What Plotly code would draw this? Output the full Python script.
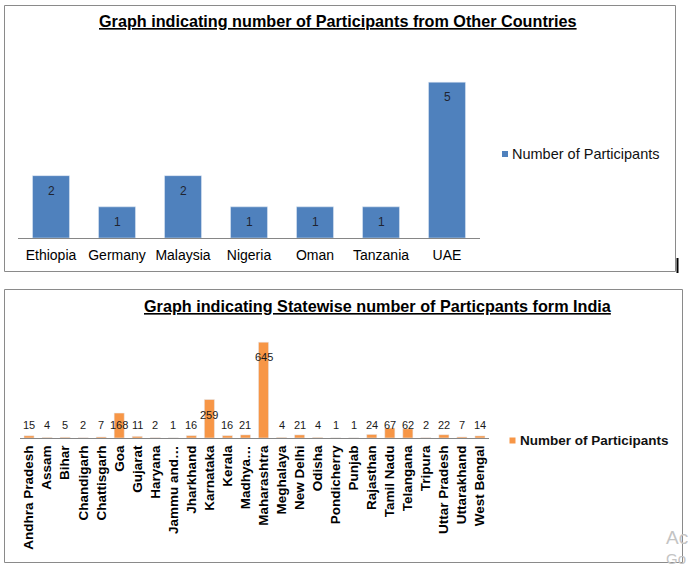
import plotly.graph_objects as go

W, H = 688, 566

countries = ["Ethiopia", "Germany", "Malaysia", "Nigeria", "Oman", "Tanzania", "UAE"]
country_values = [2, 1, 2, 1, 1, 1, 5]

states = ["Andhra Pradesh", "Assam", "Bihar", "Chandigarh", "Chattisgarh", "Goa", "Gujarat",
          "Haryana", "Jammu and…", "Jharkhand", "Karnataka", "Kerala", "Madhya…", "Maharashtra",
          "Meghalaya", "New Delhi", "Odisha", "Pondicherry", "Punjab", "Rajasthan", "Tamil Nadu",
          "Telangana", "Tripura", "Uttar Pradesh", "Uttarakhand", "West Bengal"]
state_values = [15, 4, 5, 2, 7, 168, 11, 2, 1, 16, 259, 16, 21, 645, 4, 21, 4, 1, 1, 24, 67,
                62, 2, 22, 7, 14]

series_name = "Number of Participants"
title_top = "Graph indicating number of Participants from Other Countries"
title_bottom = "Graph indicating Statewise number of Particpants form India"

FONT = "Liberation Sans, Arial, sans-serif"
BLUE = "#4F81BD"
ORANGE = "#F79646"
BORDER = "#8a8a8a"


def px(x):
    return x / W


def py(y):
    return 1 - y / H


fig = go.Figure()
fig.add_trace(go.Bar(x=countries, y=country_values, marker_color=BLUE, name=series_name,
                     xaxis="x", yaxis="y", showlegend=False, hoverinfo="x+y"))
fig.add_trace(go.Bar(x=states, y=state_values, marker_color=ORANGE, name=series_name,
                     xaxis="x2", yaxis="y2", showlegend=False, hoverinfo="x+y"))

annotations = []
# data labels, top chart (inside end)
for c, v in zip(countries, country_values):
    annotations.append(dict(x=c, y=v, xref="x", yref="y", text=str(v), showarrow=False,
                            yshift=-15, yanchor="middle",
                            font=dict(family=FONT, size=12, color="#1f2430")))
# data labels, bottom chart
label_floor = 189
for s, v in zip(states, state_values):
    annotations.append(dict(x=s, y=max(v, label_floor), xref="x2", yref="y2", text=str(v),
                            showarrow=False, yshift=-15, yanchor="middle",
                            font=dict(family=FONT, size=11, color="#1a1a1a")))


def paper_text(x, y, text, size, color="#000", xanchor="center"):
    return dict(x=px(x), y=py(y), xref="paper", yref="paper", xanchor=xanchor, yanchor="middle",
                text=text, showarrow=False, font=dict(family=FONT, size=size, color=color))


# titles
annotations.append(paper_text(337.5, 21, "<b><u>" + title_top + "</u></b>", 16.2))
annotations.append(paper_text(378, 306, "<b><u>" + title_bottom + "</u></b>", 16.2))
# legends
annotations.append(paper_text(510, 154, series_name, 14.5, "#111", "left"))
annotations.append(paper_text(518, 440.5, "<b>" + series_name + "</b>", 13.5, "#111", "left"))
# watermark (cut off at the window edge in the reference)
annotations.append(paper_text(664, 537, "Ac", 19, "#c4c4c4", "left"))
annotations.append(paper_text(664, 558, "Go", 15, "#c4c4c4", "left"))

shapes = [
    dict(type="rect", xref="paper", yref="paper", x0=px(4.5), x1=px(675.5), y0=py(271.5), y1=py(5.5),
         line=dict(color=BORDER, width=1)),
    dict(type="rect", xref="paper", yref="paper", x0=px(4.5), x1=px(682.5), y0=py(562.5), y1=py(289.5),
         line=dict(color=BORDER, width=1)),
    dict(type="rect", xref="paper", yref="paper", x0=px(502), x1=px(508), y0=py(157), y1=py(151),
         fillcolor=BLUE, line=dict(width=0)),
    dict(type="rect", xref="paper", yref="paper", x0=px(509.5), x1=px(515.5), y0=py(443.5), y1=py(437.5),
         fillcolor=ORANGE, line=dict(width=0)),
    dict(type="line", xref="paper", yref="paper", x0=px(677.5), x1=px(677.5), y0=py(273), y1=py(258),
         line=dict(color="#000", width=2)),
]

fig.update_layout(
    width=W, height=H, margin=dict(l=0, r=0, t=0, b=0),
    paper_bgcolor="white", plot_bgcolor="white",
    bargap=0.44, showlegend=False,
    annotations=annotations, shapes=shapes,
    xaxis=dict(domain=[px(18), px(480)], range=[-0.5, 6.5], showline=True, linecolor="#868686",
               linewidth=1, showgrid=False, ticks="", ticklabelstandoff=4,
               tickfont=dict(family=FONT, size=14, color="#000"), anchor="y", fixedrange=True),
    yaxis=dict(domain=[py(238), py(51)], range=[0, 6], visible=False, anchor="x"),
    xaxis2=dict(domain=[px(20), px(489)], range=[-0.5, 25.5], showline=True, linecolor="#868686",
                linewidth=1, showgrid=False, ticks="", tickangle=-90, ticklabelstandoff=1,
                tickfont=dict(family=FONT, size=13.5, color="#000", weight="bold"), anchor="y2"),
    yaxis2=dict(domain=[py(438), py(334)], range=[0, 700], visible=False, anchor="x2"),
)

fig.write_html("out.html", config={"displayModeBar": False},
               post_script="document.body.style.margin='0';")
